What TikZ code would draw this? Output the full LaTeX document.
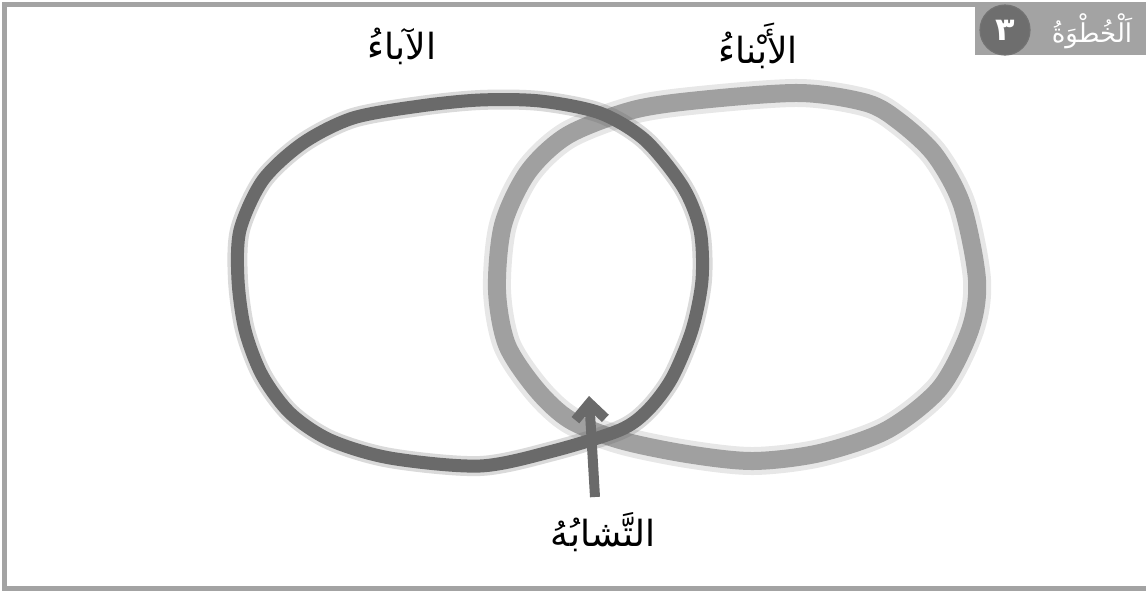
\documentclass[tikz,border=0pt]{standalone}
\usepackage{fontspec}
\newfontfamily\arabicfont[Script=Arabic]{DejaVu Sans}
\TeXXeTstate=1
\usetikzlibrary{arrows.meta}
\definecolor{framegray}{HTML}{A3A3A3}
\definecolor{darkpencil}{HTML}{6A6A6A}
\definecolor{lightpencil}{HTML}{A0A0A0}
\definecolor{badgegray}{HTML}{6E6E6E}
\newcommand{\artext}[1]{{\arabicfont\beginR #1\endR}}

\begin{document}
\begin{tikzpicture}[x=0.5pt,y=-0.5pt,
    arlabel/.style={font=\fontsize{18}{22}\selectfont, inner sep=1pt},
    halo/.style={line width=10pt, opacity=0.25, line join=round},
    pencil/.style={line width=6.5pt, line join=round}]
    \useasboundingbox (0,0) rectangle (1146,591);
    % frame
    \draw[framegray, line width=2.5pt] (1146,4.5) -- (4.5,4.5) -- (4.5,588.5) -- (1146,588.5);
    % step badge, top right
    \fill[framegray] (975,2) rectangle (1146,55);
    \node[circle, fill=badgegray, draw=black!55, line width=0.6pt, minimum size=25pt, inner sep=0pt,
          text=white, font=\fontsize{16}{18}\selectfont\bfseries] (stepnum) at (1005,30) {\artext{٣}};
    \node[text=white, font=\fontsize{13}{15}\selectfont, inner sep=0pt] (steptitle) at (1092,31) {\artext{اَلْخُطْوَةُ}};
    % right circle (light pencil)
    \draw[lightpencil, halo, line width=14pt] plot[smooth cycle] coordinates {
        (700,100) (800,93) (867,103) (900,122) (935,155) (962,205) (977,280) (970,330)
        (940,388) (887,430) (820,453) (753,461) (687,454) (620,440) (570,420) (537,390)
        (507,345) (497,290) (503,225) (528,172) (568,135) (633,110)};
    \draw[lightpencil, pencil, line width=9pt] plot[smooth cycle] coordinates {
        (700,100) (800,93) (867,103) (900,122) (935,155) (962,205) (977,280) (970,330)
        (940,388) (887,430) (820,453) (753,461) (687,454) (620,440) (570,420) (537,390)
        (507,345) (497,290) (503,225) (528,172) (568,135) (633,110)};
    % left circle (dark pencil)
    \draw[darkpencil, halo] plot[smooth cycle] coordinates {
        (480,100) (420,106) (353,118) (303,143) (263,180) (240,230) (238,280) (245,330)
        (262,375) (290,413) (330,440) (390,458) (480,466) (553,451) (620,430) (648,410)
        (672,378) (692,330) (702,280) (700,230) (683,187) (645,140) (600,113) (540,101)};
    \draw[darkpencil, pencil] plot[smooth cycle] coordinates {
        (480,100) (420,106) (353,118) (303,143) (263,180) (240,230) (238,280) (245,330)
        (262,375) (290,413) (330,440) (390,458) (480,466) (553,451) (620,430) (648,410)
        (672,378) (692,330) (702,280) (700,230) (683,187) (645,140) (600,113) (540,101)};
    % labels
    \node[arlabel] (parents) at (402,46) {\artext{الآباءُ}};
    \node[arlabel] (children) at (758,46) {\artext{الأَبْناءُ}};
    \node[arlabel] (similar) at (603,532) {\artext{التَّشابُهُ}};
    % arrow to the overlap
    \coordinate (simbase) at (595,497);
    \coordinate (simtip) at (589,396);
    \draw[darkpencil, line width=5pt, -{Straight Barb[length=8pt, width=15pt]}] (simbase) -- (simtip);
\end{tikzpicture}
\end{document}
